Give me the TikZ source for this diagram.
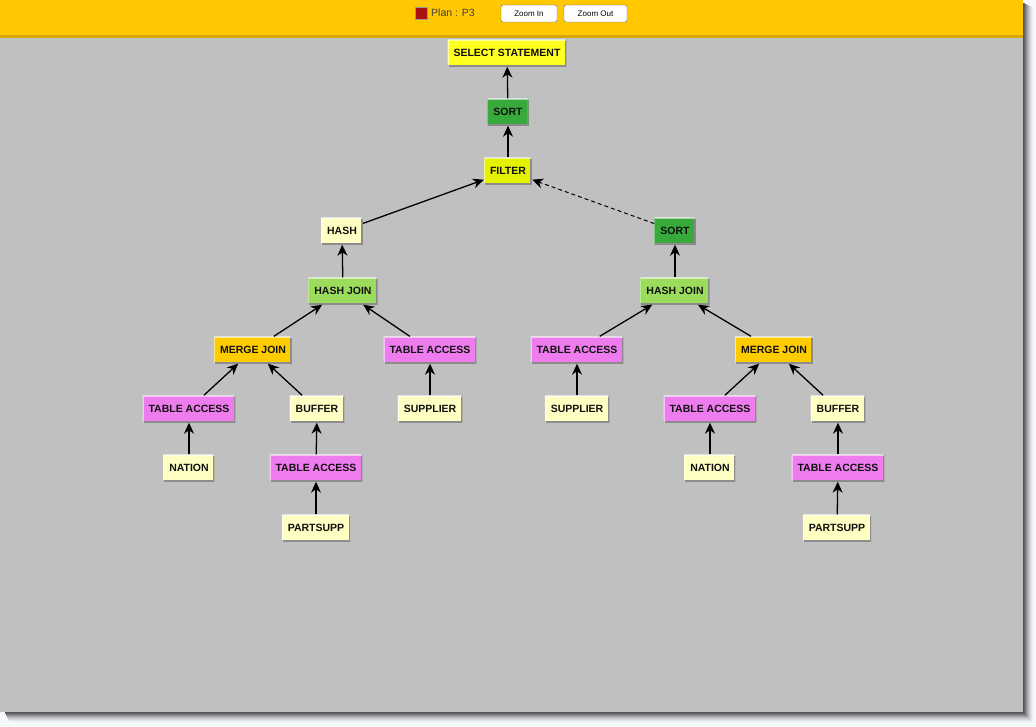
\documentclass[tikz,border=0pt]{standalone}
\usepackage{fontspec}
\setmainfont{Liberation Sans}
\usetikzlibrary{arrows.meta}
\definecolor{outside}{HTML}{F6F8FC}
\definecolor{wingray}{HTML}{C0C0C0}
\definecolor{barcol}{HTML}{FFC800}
\definecolor{barline}{HTML}{D8A800}
\definecolor{selcol}{HTML}{FFFF22}
\definecolor{filtcol}{HTML}{E4F200}
\definecolor{sortcol}{HTML}{38AA3C}
\definecolor{hjcol}{HTML}{9CDC5C}
\definecolor{mjcol}{HTML}{FFCC00}
\definecolor{tacol}{HTML}{EE7CEE}
\definecolor{palecol}{HTML}{FFFFC4}
\definecolor{txtcol}{HTML}{111111}
\definecolor{plancol}{HTML}{AA1111}
\tikzset{
  x=1pt, y=-1pt,
  opbox/.style={fill=#1, draw=none, minimum height=27pt, inner xsep=6pt,
    font=\fontsize{10.5}{12}\selectfont\bfseries, text=txtcol,
    path picture={
      \draw[black!45, line width=3pt]
        ([xshift=-1pt]path picture bounding box.south west) --
        (path picture bounding box.south east) --
        ([yshift=1pt]path picture bounding box.north east);
      \draw[white, opacity=0.55, line width=2pt]
        (path picture bounding box.south west) --
        (path picture bounding box.north west) --
        (path picture bounding box.north east);
    }},
  edge/.style={line width=1.3pt, black, -{Stealth[length=11pt, width=10pt, inset=3.5pt]}},
  dedge/.style={edge, line width=1pt, dash pattern=on 4pt off 3pt},
  btn/.style={draw=black!60, fill=white, rounded corners=1.5pt, minimum height=17pt,
    font=\fontsize{8}{9}\selectfont, text=black, inner sep=0pt}
}
\begin{document}
\begin{tikzpicture}
\useasboundingbox (0,0) rectangle (1036,726);
\fill[outside] (0,0) rectangle (1036,726);
% window shadow
\foreach \i/\c in {10/4,9/8,8/13,7/19,6/26,5/34,4/43,3/52,2/60,1/66}
  \fill[black!\c!outside] (4+\i/2,2+\i/2) rectangle (1023+\i,712+\i);
% window
\fill[wingray] (0,0) rectangle (1023,712);
\fill[barcol] (0,0) rectangle (1023,35);
\fill[barline] (0,35) rectangle (1023,37.5);
% top bar content
\node[draw=black!40, fill=plancol, minimum size=12pt, inner sep=0pt] (plansq) at (421,13) {};
\node[anchor=west, font=\fontsize{10.5}{12}\selectfont, text=black!75, inner sep=0pt] (plan) at (431,13) {Plan : P3};
\node[btn, minimum width=56pt] (zin) at (529,13.5) {Zoom In};
\node[btn, minimum width=63pt] (zout) at (595.5,13.5) {Zoom Out};
% nodes
\node[opbox=selcol] (sel) at (507,53) {SELECT STATEMENT};
\node[opbox=sortcol] (sort1) at (508,112) {SORT};
\node[opbox=filtcol] (filt) at (508,171) {FILTER};
\node[opbox=palecol] (hash) at (342,231) {HASH};
\node[opbox=sortcol] (sort2) at (675,231) {SORT};
\node[opbox=hjcol] (hj1) at (343,291) {HASH JOIN};
\node[opbox=hjcol] (hj2) at (675,291) {HASH JOIN};
\node[opbox=mjcol] (mj1) at (253,350) {MERGE JOIN};
\node[opbox=tacol] (ta1) at (430,350) {TABLE ACCESS};
\node[opbox=tacol] (ta4) at (577,350) {TABLE ACCESS};
\node[opbox=mjcol] (mj2) at (774,350) {MERGE JOIN};
\node[opbox=tacol] (ta2) at (189,409) {TABLE ACCESS};
\node[opbox=palecol] (buf1) at (317,409) {BUFFER};
\node[opbox=palecol] (sup1) at (430,409) {SUPPLIER};
\node[opbox=palecol] (sup2) at (577,409) {SUPPLIER};
\node[opbox=tacol] (ta5) at (710,409) {TABLE ACCESS};
\node[opbox=palecol] (buf2) at (838,409) {BUFFER};
\node[opbox=palecol] (nat1) at (189,468) {NATION};
\node[opbox=tacol] (ta3) at (316,468) {TABLE ACCESS};
\node[opbox=palecol] (nat2) at (710,468) {NATION};
\node[opbox=tacol] (ta6) at (838,468) {TABLE ACCESS};
\node[opbox=palecol] (ps1) at (316,528) {PARTSUPP};
\node[opbox=palecol] (ps2) at (837,528) {PARTSUPP};
% edges
\draw[edge] (sort1) -- (sel);
\draw[edge] (filt) -- (sort1);
\draw[edge] (hash) -- (filt);
\draw[dedge] (sort2) -- (filt);
\draw[edge] (hj1) -- (hash);
\draw[edge] (hj2) -- (sort2);
\draw[edge] (mj1) -- (hj1);
\draw[edge] (ta1) -- (hj1);
\draw[edge] (ta4) -- (hj2);
\draw[edge] (mj2) -- (hj2);
\draw[edge] (ta2) -- (mj1);
\draw[edge] (buf1) -- (mj1);
\draw[edge] (sup1) -- (ta1);
\draw[edge] (sup2) -- (ta4);
\draw[edge] (ta5) -- (mj2);
\draw[edge] (buf2) -- (mj2);
\draw[edge] (nat1) -- (ta2);
\draw[edge] (ta3) -- (buf1);
\draw[edge] (ps1) -- (ta3);
\draw[edge] (nat2) -- (ta5);
\draw[edge] (ta6) -- (buf2);
\draw[edge] (ps2) -- (ta6);
\end{tikzpicture}
\end{document}
